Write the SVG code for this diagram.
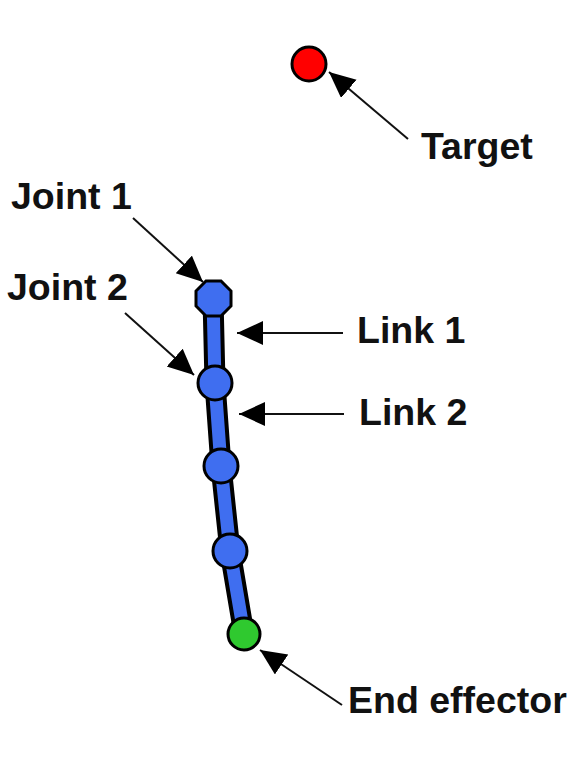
<svg xmlns="http://www.w3.org/2000/svg" width="576" height="769" viewBox="0 0 576 769">
<style>
.lbl{font-family:"Liberation Sans",Arial,sans-serif;font-weight:bold;font-size:37.5px;fill:#111}
.arr{stroke:#111;stroke-width:2;fill:none;marker-end:url(#ah)}
.joint{fill:#3F6EF0;stroke:#000;stroke-width:3}
</style>
<defs>
<marker id="ah" markerUnits="userSpaceOnUse" markerWidth="28" markerHeight="26" refX="26" refY="12" orient="auto">
<path d="M0,0 L26,12 L0,24 Z" fill="#000"/>
</marker>
</defs>
<rect width="576" height="769" fill="#fff"/>
<g id="links">
<polyline points="213,298 215,383 221,466 230,551 244,634" fill="none" stroke="#000" stroke-width="21" stroke-linejoin="round"/>
<polyline points="213,298 215,383 221,466 230,551 244,634" fill="none" stroke="#3F6EF0" stroke-width="13" stroke-linejoin="round"/>
</g>
<g id="target"><circle cx="309" cy="64" r="17" fill="#FF0000" stroke="#000" stroke-width="3"/></g>
<g id="joint1"><polygon class="joint" points="206,281 221,281 231,291 231,306 221,316 206,316 196,306 196,291"/></g>
<g id="joint2"><circle class="joint" cx="215" cy="383" r="17"/></g>
<g id="joint3"><circle class="joint" cx="221" cy="466" r="17"/></g>
<g id="joint4"><circle class="joint" cx="230" cy="551" r="17"/></g>
<g id="endeffector"><circle cx="244" cy="634" r="16" fill="#2FC92F" stroke="#000" stroke-width="3"/></g>
<g id="connectors">
<line class="arr" x1="408" y1="139" x2="329" y2="72"/>
<line class="arr" x1="133" y1="218" x2="203" y2="282"/>
<line class="arr" x1="125" y1="313" x2="194" y2="375"/>
<line class="arr" x1="343" y1="333" x2="237" y2="333"/>
<line class="arr" x1="344" y1="414" x2="239" y2="414"/>
<line class="arr" x1="342" y1="705" x2="260" y2="650"/>
</g>
<g id="labels">
<text class="lbl" x="421" y="159">Target</text>
<text class="lbl" x="11" y="209">Joint 1</text>
<text class="lbl" x="7" y="300">Joint 2</text>
<text class="lbl" x="357" y="343">Link 1</text>
<text class="lbl" x="359" y="425">Link 2</text>
<text class="lbl" x="348" y="713">End effector</text>
</g>
</svg>
